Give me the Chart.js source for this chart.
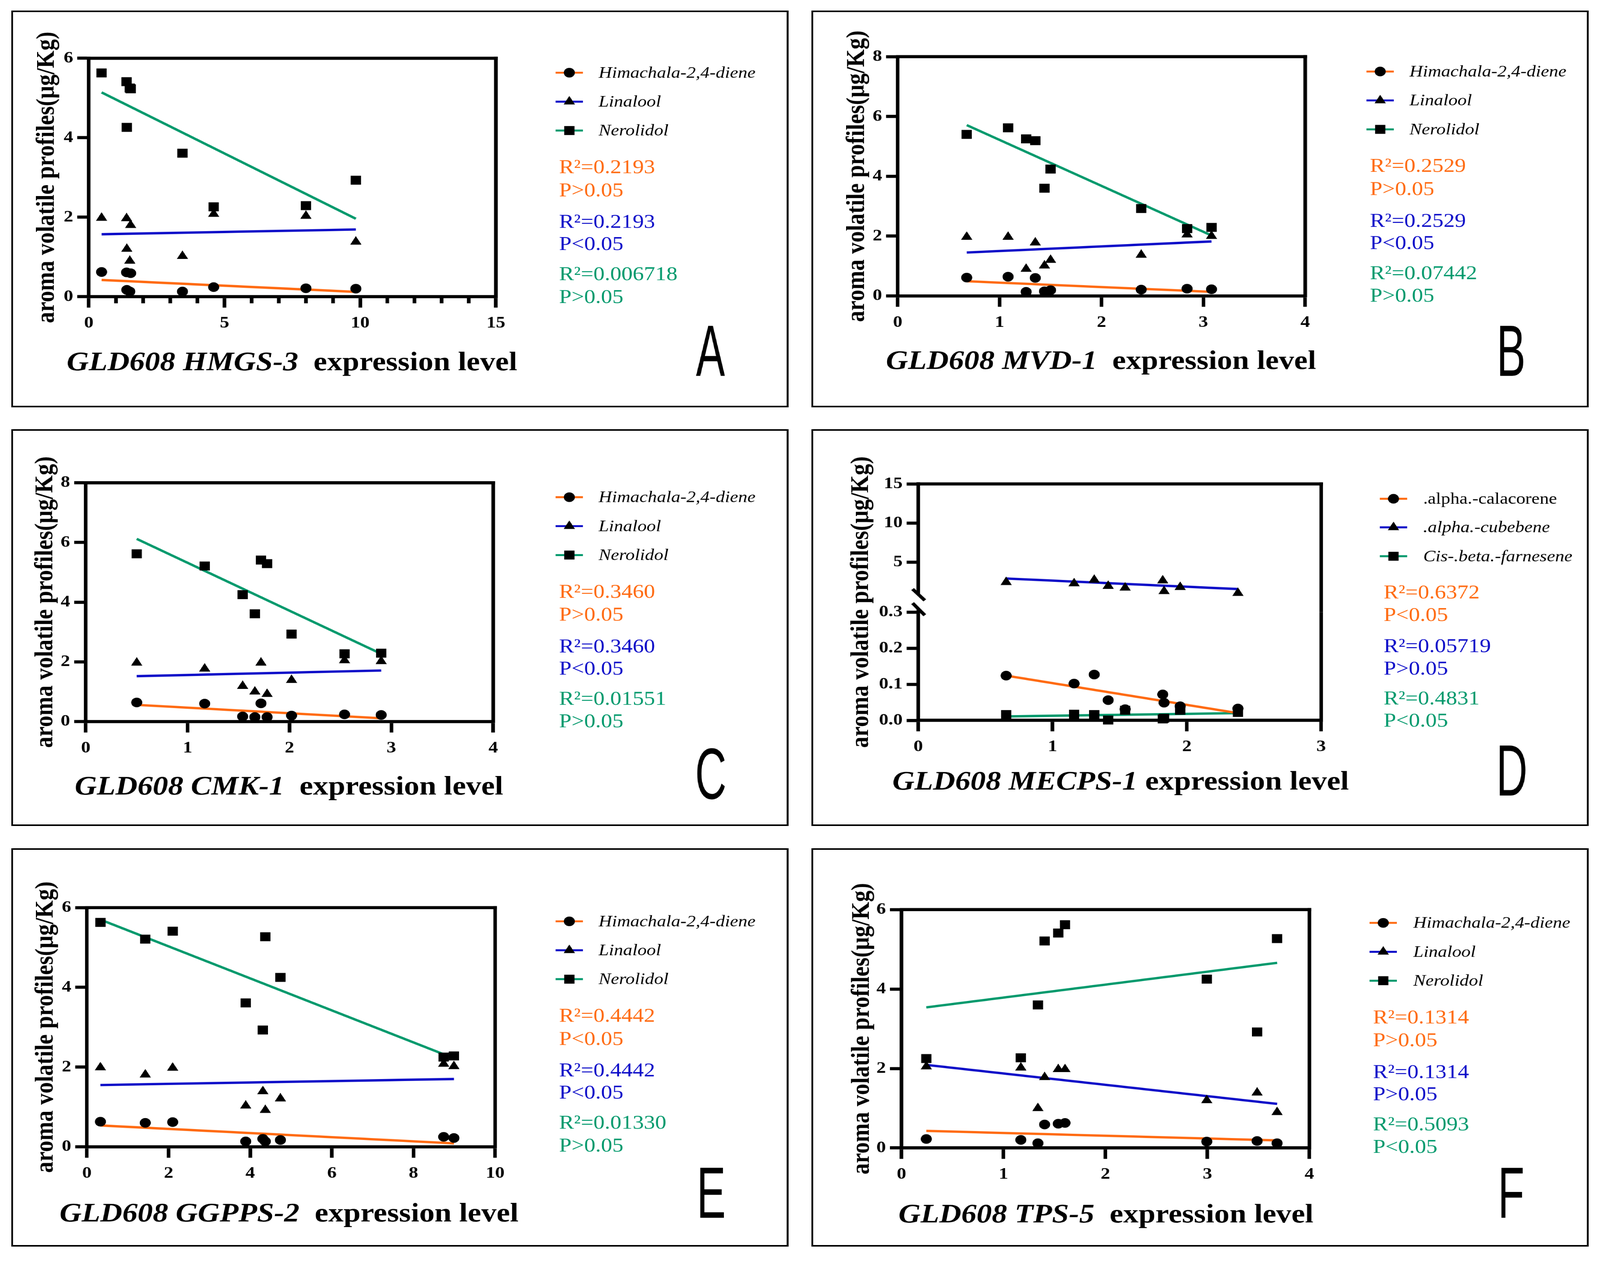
<!DOCTYPE html>
<html>
<head>
<meta charset="utf-8">
<script src="https://cdn.jsdelivr.net/npm/chart.js@4.4.1/dist/chart.umd.min.js"></script>
<style>
html,body{margin:0;padding:0;background:#fff;overflow:hidden;}
#page{position:absolute;left:0;top:0;width:3565.25px;height:3234px;transform-origin:0 0;transform:scaleX(1.18);}
.panel{position:absolute;border:4px solid #000;box-sizing:border-box;pointer-events:none;}
canvas{position:absolute;}
</style>
</head>
<body>
<div id="page"></div>
<script>
// ---------------- DATA ----------------
const terpeneNames = ['Himachala-2,4-diene', 'Linalool', 'Nerolidol'];
const terpeneItalic = [true, true, true];
const sesquiNames = ['.alpha.-calacorene', '.alpha.-cubebene', 'Cis-.beta.-farnesene'];
const sesquiItalic = [false, true, true];
const yAxisTitle = 'aroma volatile profiles(μg/Kg)';
const xAxisSuffix = 'expression level';

// Panel A : GLD608 HMGS-3
const A_expr      = [0.47, 1.39, 1.54, 1.40, 1.51, 3.45, 4.60, 8.00, 9.84];
const A_himachala = [0.62, 0.61, 0.59, 0.17, 0.13, 0.13, 0.24, 0.21, 0.20];
const A_linalool  = [1.98, 1.97, 1.80, 1.20, 0.90, 1.02, 2.08, 2.03, 1.38];
const A_nerolidol = [5.63, 5.41, 5.23, 4.26, 5.25, 3.61, 2.26, 2.29, 2.93];
const A_fitX = [0.47, 9.84];
const A_fitHimachala = [0.42, 0.12];
const A_fitLinalool  = [1.57, 1.69];
const A_fitNerolidol = [5.14, 1.96];
const A_xRange = [0, 15], A_xTicks = [0, 5, 10, 15], A_xTickLabels = ['0', '5', '10', '15'];
const A_xMinorTicks = [1, 2, 3, 4, 6, 7, 8, 9, 11, 12, 13, 14];
const A_yRange = [0, 6], A_yTicks = [0, 2, 4, 6], A_yTickLabels = ['0', '2', '4', '6'];
const A_r2 = ['R²=0.2193', 'R²=0.2193', 'R²=0.006718'];
const A_p  = ['P>0.05', 'P<0.05', 'P>0.05'];

// Panel B : GLD608 MVD-1
const B_expr      = [0.677, 1.083, 1.26, 1.35, 1.44, 1.50, 2.39, 2.84, 3.08];
const B_himachala = [0.61, 0.64, 0.135, 0.60, 0.15, 0.19, 0.21, 0.24, 0.22];
const B_linalool  = [1.97, 1.97, 0.90, 1.78, 1.01, 1.20, 1.37, 2.05, 2.00];
const B_nerolidol = [5.40, 5.62, 5.25, 5.19, 3.60, 4.24, 2.92, 2.25, 2.29];
const B_fitX = [0.677, 3.08];
const B_fitHimachala = [0.49, 0.135];
const B_fitLinalool  = [1.45, 1.82];
const B_fitNerolidol = [5.71, 2.02];
const B_xRange = [0, 4], B_xTicks = [0, 1, 2, 3, 4], B_xTickLabels = ['0', '1', '2', '3', '4'];
const B_yRange = [0, 8], B_yTicks = [0, 2, 4, 6, 8], B_yTickLabels = ['0', '2', '4', '6', '8'];
const B_r2 = ['R²=0.2529', 'R²=0.2529', 'R²=0.07442'];
const B_p  = ['P>0.05', 'P<0.05', 'P>0.05'];

// Panel C : GLD608 CMK-1
const C_expr      = [0.50, 1.167, 1.54, 1.66, 1.72, 1.78, 2.02, 2.54, 2.90];
const C_himachala = [0.64, 0.60, 0.17, 0.15, 0.61, 0.15, 0.20, 0.24, 0.22];
const C_linalool  = [1.97, 1.77, 1.19, 1.00, 1.97, 0.92, 1.39, 2.05, 2.02];
const C_nerolidol = [5.62, 5.21, 4.25, 3.61, 5.41, 5.29, 2.93, 2.27, 2.29];
const C_fitX = [0.50, 2.90];
const C_fitHimachala = [0.56, 0.11];
const C_fitLinalool  = [1.52, 1.71];
const C_fitNerolidol = [6.12, 2.27];
const C_xRange = [0, 4], C_xTicks = [0, 1, 2, 3, 4], C_xTickLabels = ['0', '1', '2', '3', '4'];
const C_yRange = [0, 8], C_yTicks = [0, 2, 4, 6, 8], C_yTickLabels = ['0', '2', '4', '6', '8'];
const C_r2 = ['R²=0.3460', 'R²=0.3460', 'R²=0.01551'];
const C_p  = ['P>0.05', 'P<0.05', 'P>0.05'];

// Panel D : GLD608 MECPS-1 (broken y axis)
const D_expr        = [0.654, 1.16, 1.31, 1.414, 1.54, 1.82, 1.83, 1.95, 2.38];
const D_calacorene  = [0.124, 0.102, 0.127, 0.056, 0.031, 0.072, 0.049, 0.039, 0.033];
const D_cubebene    = [2.43, 2.27, 2.72, 1.94, 1.72, 2.64, 1.27, 1.79, 1.04];
const D_farnesene   = [0.016, 0.017, 0.016, 0.001, 0.028, 0.004, 0.006, 0.028, 0.022];
const D_fitX = [0.654, 2.38];
const D_fitCalacorene = [0.124, 0.020];
const D_fitCubebene   = [2.90, 1.55];
const D_fitFarnesene  = [0.011, 0.020];
const D_xRange = [0, 3], D_xTicks = [0, 1, 2, 3], D_xTickLabels = ['0', '1', '2', '3'];
const D_yRangeUpper = [1, 15], D_yTicksUpper = [5, 10, 15], D_yTickLabelsUpper = ['5', '10', '15'];
const D_yRangeLower = [0, 0.3], D_yTicksLower = [0, 0.1, 0.2, 0.3], D_yTickLabelsLower = ['0.0', '0.1', '0.2', '0.3'];
const D_r2 = ['R²=0.6372', 'R²=0.05719', 'R²=0.4831'];
const D_p  = ['P<0.05', 'P>0.05', 'P<0.05'];

// Panel E : GLD608 GGPPS-2
const E_expr      = [0.33, 1.43, 2.10, 3.89, 4.37, 4.31, 4.74, 8.74, 8.99];
const E_himachala = [0.63, 0.60, 0.62, 0.135, 0.135, 0.20, 0.17, 0.25, 0.22];
const E_linalool  = [1.99, 1.81, 1.98, 1.03, 0.92, 1.39, 1.21, 2.08, 2.02];
const E_nerolidol = [5.63, 5.21, 5.41, 3.61, 5.27, 2.93, 4.25, 2.25, 2.28];
const E_fitX = [0.33, 8.99];
const E_fitHimachala = [0.535, 0.085];
const E_fitLinalool  = [1.55, 1.70];
const E_fitNerolidol = [5.70, 2.22];
const E_xRange = [0, 10], E_xTicks = [0, 2, 4, 6, 8, 10], E_xTickLabels = ['0', '2', '4', '6', '8', '10'];
const E_yRange = [0, 6], E_yTicks = [0, 2, 4, 6], E_yTickLabels = ['0', '2', '4', '6'];
const E_r2 = ['R²=0.4442', 'R²=0.4442', 'R²=0.01330'];
const E_p  = ['P<0.05', 'P<0.05', 'P>0.05'];

// Panel F : GLD608 TPS-5
const F_expr      = [0.243, 1.17, 1.337, 1.403, 1.537, 1.603, 2.993, 3.487, 3.683];
const F_himachala = [0.226, 0.203, 0.12, 0.59, 0.61, 0.63, 0.16, 0.175, 0.12];
const F_linalool  = [2.05, 2.02, 1.00, 1.78, 1.98, 1.98, 1.20, 1.39, 0.90];
const F_nerolidol = [2.25, 2.27, 3.60, 5.21, 5.41, 5.62, 4.25, 2.92, 5.27];
const F_fitX = [0.243, 3.683];
const F_fitHimachala = [0.43, 0.19];
const F_fitLinalool  = [2.09, 1.11];
const F_fitNerolidol = [3.54, 4.66];
const F_xRange = [0, 4], F_xTicks = [0, 1, 2, 3, 4], F_xTickLabels = ['0', '1', '2', '3', '4'];
const F_yRange = [0, 6], F_yTicks = [0, 2, 4, 6], F_yTickLabels = ['0', '2', '4', '6'];
const F_r2 = ['R²=0.1314', 'R²=0.1314', 'R²=0.5093'];
const F_p  = ['P>0.05', 'P>0.05', 'P<0.05'];

// ---------------- STYLE / LAYOUT ----------------
const S = 1.18; // horizontal stretch of the whole figure
const SERIF = '"Liberation Serif", "Times New Roman", serif';
const SANS = '"Liberation Sans", Arial, sans-serif';
const SERIES_COLORS = ['#FF6A10', '#0B0BC8', '#00996C'];
const MARKERS = ['circle', 'triangle', 'rect'];
const MARKER_R = [12.3, 14.5, 16.2];
const AXIS_W = 8;
const YW = 140, XH = 120;

const panels = [
  { id: 'A', gene: 'GLD608 HMGS-3', sep: '  ', names: terpeneNames, italic: terpeneItalic,
    x: A_expr, ys: [A_himachala, A_linalool, A_nerolidol], fitX: A_fitX, fitYs: [A_fitHimachala, A_fitLinalool, A_fitNerolidol],
    xRange: A_xRange, xTicks: A_xTicks, xTickLabels: A_xTickLabels, xMinor: A_xMinorTicks,
    r2: A_r2, p: A_p,
    parts: [{ series: [0, 1, 2], yRange: A_yRange, yTicks: A_yTicks, yTickLabels: A_yTickLabels, top: 149, bottom: 759, showX: true, frameTop: true, decor: true }],
    box: [30, 27, 2043, 1016], plot: [234, 149, 1304, 759],
    leg: { x1: 1431, x2: 1503, tx: 1544, rows: [159, 233, 307] }, stats: { x: 1440, base: [416, 475, 556, 613, 690, 748] },
    yTitleX: 94, xTitle: { x: 146, base: 920 }, letter: { cx: 1838, base: 935 } },
  { id: 'B', gene: 'GLD608 MVD-1', sep: '  ', names: terpeneNames, italic: terpeneItalic,
    x: B_expr, ys: [B_himachala, B_linalool, B_nerolidol], fitX: B_fitX, fitYs: [B_fitHimachala, B_fitLinalool, B_fitNerolidol],
    xRange: B_xRange, xTicks: B_xTicks, xTickLabels: B_xTickLabels, xMinor: null,
    r2: B_r2, p: B_p,
    parts: [{ series: [0, 1, 2], yRange: B_yRange, yTicks: B_yTicks, yTickLabels: B_yTickLabels, top: 145, bottom: 757, showX: true, frameTop: true, decor: true }],
    box: [2133, 27, 2044, 1016], plot: [2360, 145, 3431, 757],
    leg: { x1: 1459, x2: 1531, tx: 1572, rows: [156, 230, 304] }, stats: { x: 1468, base: [413, 472, 553, 610, 687, 745] },
    yTitleX: 120, xTitle: { x: 196, base: 917 }, letter: { cx: 1839, base: 935 } },
  { id: 'C', gene: 'GLD608 CMK-1', sep: '  ', names: terpeneNames, italic: terpeneItalic,
    x: C_expr, ys: [C_himachala, C_linalool, C_nerolidol], fitX: C_fitX, fitYs: [C_fitHimachala, C_fitLinalool, C_fitNerolidol],
    xRange: C_xRange, xTicks: C_xTicks, xTickLabels: C_xTickLabels, xMinor: null,
    r2: C_r2, p: C_p,
    parts: [{ series: [0, 1, 2], yRange: C_yRange, yTicks: C_yTicks, yTickLabels: C_yTickLabels, top: 1236, bottom: 1847, showX: true, frameTop: true, decor: true }],
    box: [30, 1099, 2043, 1016], plot: [226, 1236, 1297, 1847],
    leg: { x1: 1431, x2: 1503, tx: 1544, rows: [174, 248, 322] }, stats: { x: 1440, base: [431, 490, 571, 628, 705, 763] },
    yTitleX: 90, xTitle: { x: 167, base: 935 }, letter: { cx: 1839, base: 946 } },
  { id: 'D', gene: 'GLD608 MECPS-1', sep: ' ', names: sesquiNames, italic: sesquiItalic,
    x: D_expr, ys: [D_calacorene, D_cubebene, D_farnesene], fitX: D_fitX, fitYs: [D_fitCalacorene, D_fitCubebene, D_fitFarnesene],
    xRange: D_xRange, xTicks: D_xTicks, xTickLabels: D_xTickLabels, xMinor: null,
    r2: D_r2, p: D_p,
    parts: [
      { series: [1], yRange: D_yRangeUpper, yTicks: D_yTicksUpper, yTickLabels: D_yTickLabelsUpper, top: 1239, bottom: 1519, showX: false, frameTop: true, rightBottom: 1567, decor: false },
      { series: [0, 2], yRange: D_yRangeLower, yTicks: D_yTicksLower, yTickLabels: D_yTickLabelsLower, top: 1567, bottom: 1844, showX: true, frameTop: false, decor: true,
        axisTopExt: 1559, breakMarks: [[2399, 1508, 2431, 1537], [2399, 1544, 2431, 1575]] }
    ],
    box: [2133, 1099, 2044, 1016], plot: [2414, 1239, 3473, 1844],
    leg: { x1: 1494, x2: 1566, tx: 1608, rows: [178, 251, 325] }, stats: { x: 1504, base: [433, 491, 570, 628, 704, 761] },
    yTitleX: 131, xTitle: { x: 213, base: 922 }, letter: { cx: 1841, base: 937 } },
  { id: 'E', gene: 'GLD608 GGPPS-2', sep: '  ', names: terpeneNames, italic: terpeneItalic,
    x: E_expr, ys: [E_himachala, E_linalool, E_nerolidol], fitX: E_fitX, fitYs: [E_fitHimachala, E_fitLinalool, E_fitNerolidol],
    xRange: E_xRange, xTicks: E_xTicks, xTickLabels: E_xTickLabels, xMinor: null,
    r2: E_r2, p: E_p,
    parts: [{ series: [0, 1, 2], yRange: E_yRange, yTicks: E_yTicks, yTickLabels: E_yTickLabels, top: 2324, bottom: 2936, showX: true, frameTop: true, decor: true }],
    box: [30, 2172, 2043, 1020], plot: [229, 2324, 1302, 2936],
    leg: { x1: 1431, x2: 1503, tx: 1544, rows: [187, 261, 335] }, stats: { x: 1440, base: [444, 503, 584, 641, 718, 776] },
    yTitleX: 91, xTitle: { x: 127, base: 955 }, letter: { cx: 1840, base: 946 } },
  { id: 'F', gene: 'GLD608 TPS-5', sep: '  ', names: terpeneNames, italic: terpeneItalic,
    x: F_expr, ys: [F_himachala, F_linalool, F_nerolidol], fitX: F_fitX, fitYs: [F_fitHimachala, F_fitLinalool, F_fitNerolidol],
    xRange: F_xRange, xTicks: F_xTicks, xTickLabels: F_xTickLabels, xMinor: null,
    r2: F_r2, p: F_p,
    parts: [{ series: [0, 1, 2], yRange: F_yRange, yTicks: F_yTicks, yTickLabels: F_yTickLabels, top: 2329, bottom: 2939, showX: true, frameTop: true, decor: true }],
    box: [2133, 2172, 2044, 1020], plot: [2370, 2329, 3442, 2939],
    leg: { x1: 1467, x2: 1539, tx: 1582, rows: [191, 265, 339] }, stats: { x: 1476, base: [448, 507, 588, 645, 722, 780] },
    yTitleX: 133, xTitle: { x: 229, base: 958 }, letter: { cx: 1839, base: 946 } }
];

// ---------------- RENDER ----------------
const page = document.getElementById('page');
const vw = window.innerWidth || 4207, vh = window.innerHeight || 3234;
page.style.transform = 'scale(' + (S * vw / 4207) + ',' + (vh / 3234) + ')';
const rx = v => v / S;

function drawMarker(ctx, style, r, x, y) {
  if (Chart.helpers && Chart.helpers.drawPoint) {
    Chart.helpers.drawPoint(ctx, { pointStyle: style, radius: r, rotation: 0, borderWidth: 0 }, x, y);
    return;
  }
  ctx.beginPath();
  if (style === 'circle') ctx.arc(x, y, r, 0, Math.PI * 2);
  else if (style === 'rect') { const s = r * Math.SQRT1_2; ctx.rect(x - s, y - s, 2 * s, 2 * s); }
  else { ctx.moveTo(x, y - r); ctx.lineTo(x + r * 0.866, y + r / 2); ctx.lineTo(x - r * 0.866, y + r / 2); ctx.closePath(); }
  ctx.fill();
}

function buildPart(p, part) {
  const [bx, by, bw, bh] = p.box;
  const canvas = document.createElement('canvas');
  const W = Math.round(bw / S), H = bh;
  canvas.width = W; canvas.height = H;
  canvas.style.left = rx(bx) + 'px'; canvas.style.top = by + 'px';
  canvas.style.width = W + 'px'; canvas.style.height = H + 'px';
  page.appendChild(canvas);

  const left = rx(p.plot[0] - bx), right = rx(p.plot[2] - bx);
  const top = part.top - by, bottom = part.bottom - by;

  const datasets = [];
  part.series.forEach(si => {
    datasets.push({
      label: p.names[si],
      data: p.x.map((xv, i) => ({ x: xv, y: p.ys[si][i] })),
      pointStyle: MARKERS[si], pointRadius: MARKER_R[si], pointHoverRadius: MARKER_R[si],
      backgroundColor: '#000', borderColor: '#000', pointBorderWidth: 0, borderWidth: 0,
      showLine: false, order: 1, clip: false
    });
    datasets.push({
      label: p.names[si] + ' linear fit',
      data: p.fitX.map((xv, i) => ({ x: xv, y: p.fitYs[si][i] })),
      showLine: true, borderColor: SERIES_COLORS[si], backgroundColor: SERIES_COLORS[si],
      borderWidth: 6, pointRadius: 0, pointHoverRadius: 0, fill: false, order: 2, clip: false
    });
  });

  const tickFont = { family: SERIF, size: 42, weight: 'bold' };

  const decor = {
    id: 'decor' + p.id,
    afterDraw(chart) {
      const ctx = chart.ctx, ca = chart.chartArea;
      ctx.save();
      const seg = (x1, y1, x2, y2) => { ctx.beginPath(); ctx.moveTo(x1, y1); ctx.lineTo(x2, y2); ctx.stroke(); };
      ctx.strokeStyle = '#000'; ctx.lineWidth = AXIS_W; ctx.lineCap = 'butt';
      if (part.frameTop) seg(ca.left - AXIS_W / 2, ca.top, ca.right + AXIS_W / 2, ca.top);
      const rt = part.frameTop ? ca.top - AXIS_W / 2 : ca.top;
      const rb = part.rightBottom != null ? part.rightBottom - by : ca.bottom + AXIS_W / 2;
      seg(ca.right, rt, ca.right, rb);
      if (part.showX && p.xMinor) {
        const sx = chart.scales.x;
        p.xMinor.forEach(v => { const px = sx.getPixelForValue(v); seg(px, ca.bottom, px, ca.bottom + 17); });
      }
      if (part.axisTopExt != null) seg(ca.left, ca.top, ca.left, part.axisTopExt - by);
      if (part.breakMarks) part.breakMarks.forEach(m => seg(rx(m[0] - bx), m[1] - by, rx(m[2] - bx), m[3] - by));

      if (part.decor) {
        const L = p.leg;
        p.names.forEach((name, i) => {
          const y = L.rows[i];
          ctx.strokeStyle = SERIES_COLORS[i]; ctx.lineWidth = 5;
          seg(rx(L.x1), y, rx(L.x2), y);
          ctx.fillStyle = '#000';
          drawMarker(ctx, MARKERS[i], MARKER_R[i], rx((L.x1 + L.x2) / 2), y);
          ctx.font = (p.italic[i] ? 'italic ' : '') + '41px ' + SERIF;
          ctx.textAlign = 'left'; ctx.textBaseline = 'middle';
          ctx.fillText(name, rx(L.tx), y + 2);
        });
        const st = p.stats;
        ctx.font = '50px ' + SERIF; ctx.textAlign = 'left'; ctx.textBaseline = 'alphabetic';
        for (let i = 0; i < 3; i++) {
          ctx.fillStyle = SERIES_COLORS[i];
          ctx.fillText(p.r2[i], rx(st.x), st.base[2 * i]);
          ctx.fillText(p.p[i], rx(st.x), st.base[2 * i + 1]);
        }
        ctx.save();
        ctx.translate(rx(p.yTitleX), (p.plot[1] + p.plot[3]) / 2 - by);
        ctx.rotate(-Math.PI / 2);
        ctx.font = 'bold 58px ' + SERIF; ctx.fillStyle = '#000';
        ctx.textAlign = 'center'; ctx.textBaseline = 'middle';
        ctx.fillText(yAxisTitle, 0, 0);
        ctx.restore();
        ctx.fillStyle = '#000'; ctx.textAlign = 'left'; ctx.textBaseline = 'alphabetic';
        ctx.font = 'italic bold 68px ' + SERIF;
        let tx = rx(p.xTitle.x);
        ctx.fillText(p.gene, tx, p.xTitle.base);
        tx += ctx.measureText(p.gene + p.sep).width;
        ctx.font = 'bold 68px ' + SERIF;
        ctx.fillText(xAxisSuffix, tx, p.xTitle.base);
        ctx.save();
        ctx.translate(rx(p.letter.cx), p.letter.base);
        ctx.scale(0.52, 1);
        ctx.font = '186px ' + SANS; ctx.textAlign = 'center'; ctx.textBaseline = 'alphabetic';
        ctx.fillText(p.id, 0, 0);
        ctx.restore();
      }
      ctx.restore();
    }
  };

  new Chart(canvas, {
    type: 'scatter',
    data: { datasets },
    options: {
      responsive: false, animation: false, devicePixelRatio: S, events: [],
      layout: { padding: { left: left - YW, top: top, right: W - right, bottom: H - bottom - (part.showX ? XH : 0) } },
      plugins: { legend: { display: false }, tooltip: { enabled: false }, title: { display: false } },
      scales: {
        x: {
          type: 'linear', display: part.showX, min: p.xRange[0], max: p.xRange[1],
          afterBuildTicks: s => { s.ticks = p.xTicks.map(v => ({ value: v })); },
          afterFit: s => { if (part.showX) s.height = XH; },
          ticks: { callback: (v, i) => p.xTickLabels[i], font: tickFont, color: '#000', padding: 15, maxRotation: 0, minRotation: 0, autoSkip: false },
          grid: { display: true, drawOnChartArea: false, drawTicks: true, tickLength: 28, tickWidth: AXIS_W, tickColor: '#000' },
          border: { display: true, width: AXIS_W, color: '#000' }
        },
        y: {
          type: 'linear', min: part.yRange[0], max: part.yRange[1],
          afterBuildTicks: s => { s.ticks = part.yTicks.map(v => ({ value: v })); },
          afterFit: s => { s.width = YW; },
          ticks: { callback: (v, i) => part.yTickLabels[i], font: tickFont, color: '#000', padding: 9, autoSkip: false },
          grid: { display: true, drawOnChartArea: false, drawTicks: true, tickLength: 26, tickWidth: AXIS_W, tickColor: '#000' },
          border: { display: true, width: AXIS_W, color: '#000' }
        }
      }
    },
    plugins: [decor]
  });
}

panels.forEach(p => {
  p.parts.forEach(part => buildPart(p, part));
  const b = document.createElement('div');
  b.className = 'panel';
  b.style.left = rx(p.box[0]) + 'px'; b.style.top = p.box[1] + 'px';
  b.style.width = rx(p.box[2]) + 'px'; b.style.height = p.box[3] + 'px';
  page.appendChild(b);
});
</script>
</body>
</html>
